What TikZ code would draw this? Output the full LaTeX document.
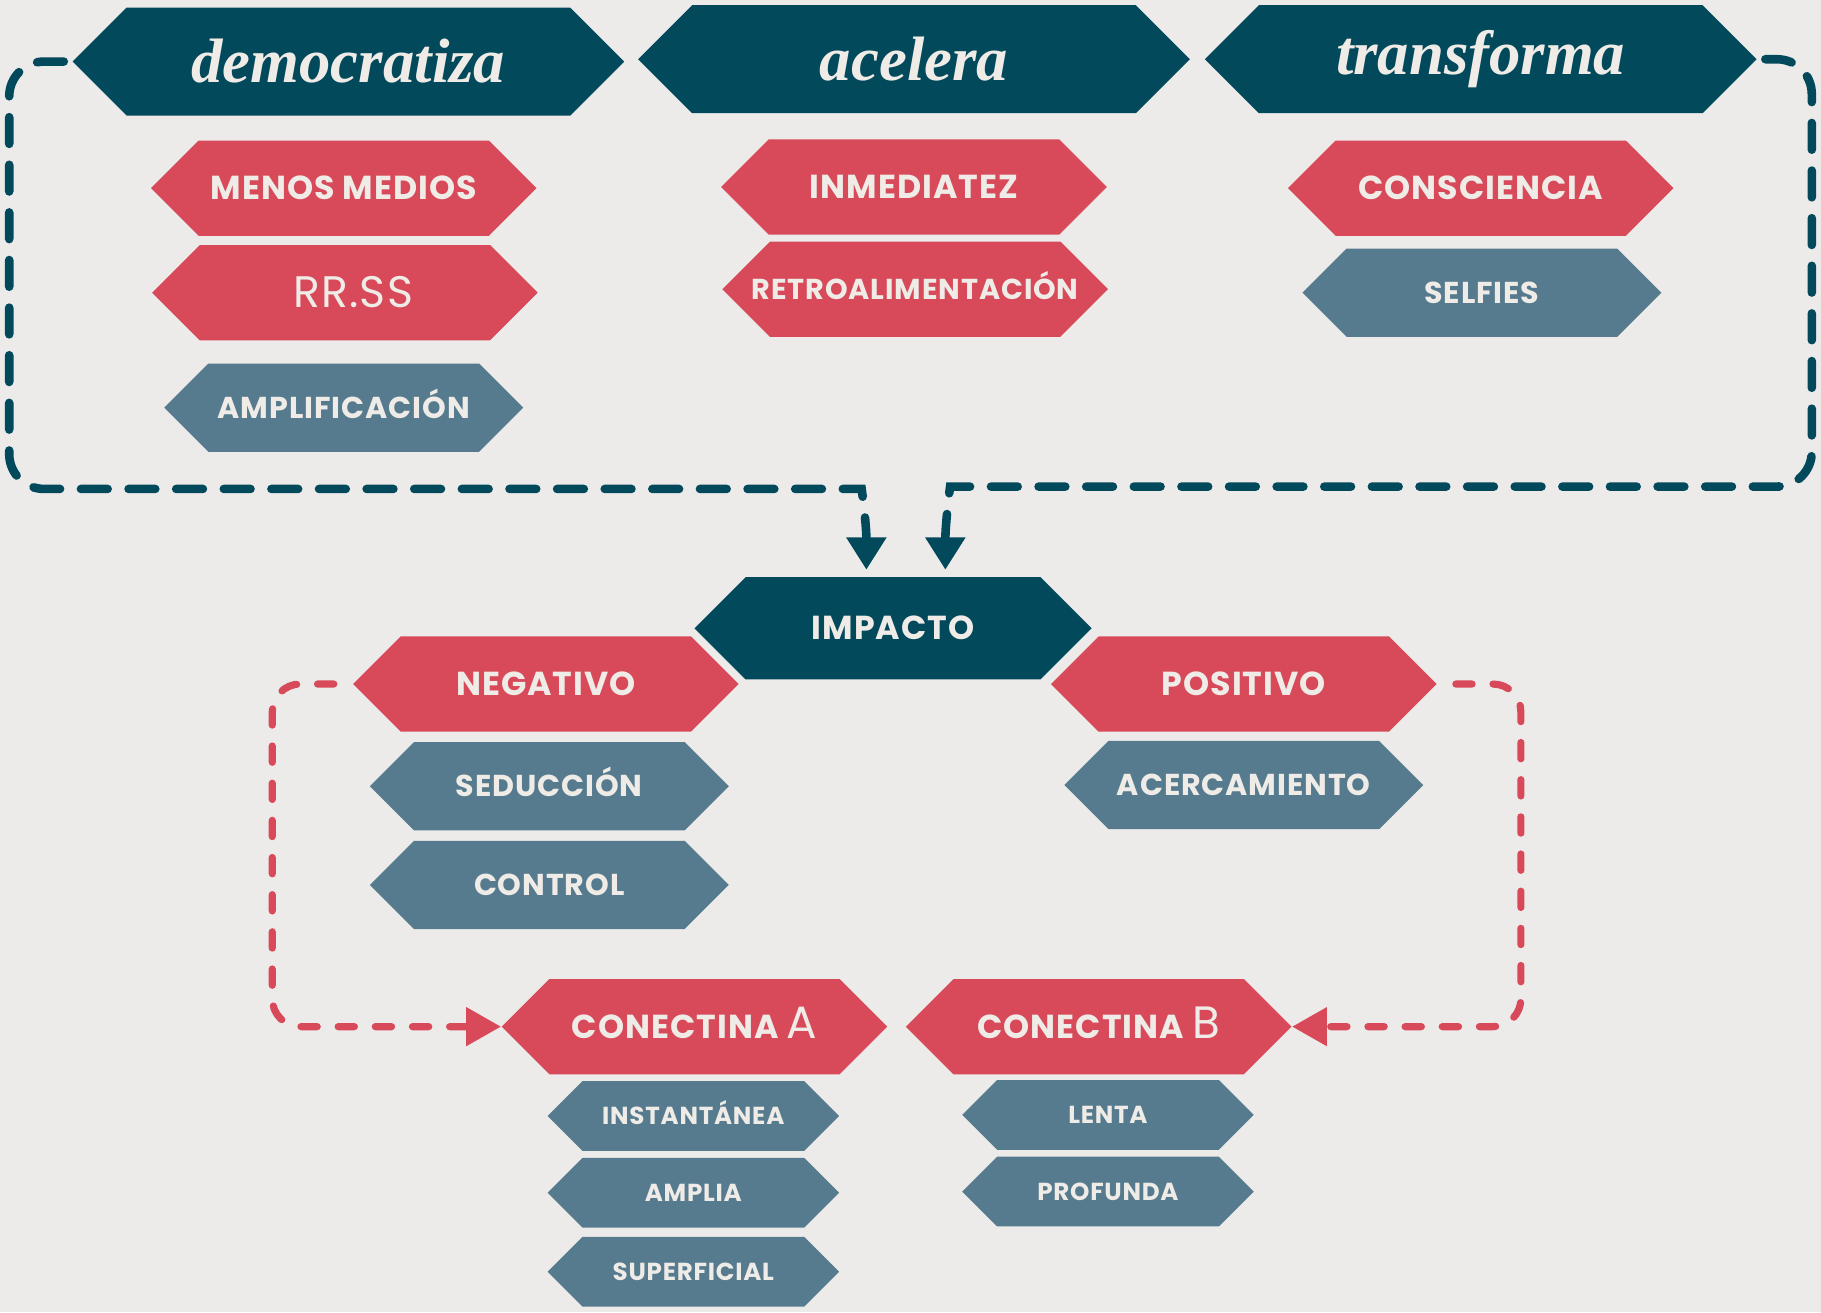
\documentclass[tikz,border=0pt]{standalone}
\usepackage{fontspec}
\usepackage{xcolor}
\usepackage{tikz}
\usetikzlibrary{shapes.symbols}
\usetikzlibrary{arrows.meta}
\usetikzlibrary{calc}
\newfontfamily\titlefont{Liberation Serif}
\newfontfamily\capsfont[LetterSpace=3]{Poppins}
\definecolor{paper}{HTML}{ECEBE9}
\definecolor{deepteal}{HTML}{03495C}
\definecolor{coral}{HTML}{D84A5A}
\definecolor{slate}{HTML}{567B8E}
\definecolor{chalk}{HTML}{EFEBE7}
\tikzset{
    hexnode/.style = {signal, signal to=west and east, signal pointer angle=90, inner sep=0pt, text=chalk, align=center},
    topnode/.style = {hexnode, fill=deepteal, minimum width=237.5pt, minimum height=46.5pt, font=\titlefont\bfseries\itshape\fontsize{27}{27}\selectfont},
    rednode/.style = {hexnode, fill=coral, minimum width=166pt, minimum height=41pt, text height=10pt, text depth=0pt, font=\capsfont\bfseries\fontsize{14.3}{14.3}\selectfont},
    bluenode/.style = {hexnode, fill=slate, minimum width=154.5pt, minimum height=38pt, text height=9pt, text depth=0pt, font=\capsfont\bfseries\fontsize{13}{13}\selectfont},
    smallnode/.style = {hexnode, fill=slate, minimum width=125.5pt, minimum height=30pt, text height=7.5pt, text depth=0pt, font=\capsfont\bfseries\fontsize{10.6}{10.6}\selectfont},
}

\begin{document}
\begin{tikzpicture}[
	x=0.5pt,
	y=-0.5pt,
	loopd/.style = {deepteal, line width=3.7pt, line cap=round, rounded corners=15pt, dash pattern=on 11.5pt off 9pt, -{Triangle[width=16.5pt,length=14pt]}},
	loopr/.style = {coral, line width=3.1pt, line cap=round, rounded corners=12pt, dash pattern=on 7pt off 9pt, -{Triangle[width=16pt,length=15pt]}},
]
\fill[paper] (0,0) rectangle (1568,1130);
\useasboundingbox (0,0) rectangle (1568,1130);
% top row
\node[topnode] at (300,53) (dem) {democratiza};
\node[topnode] at (787,51) (ace) {acelera};
\node[topnode] at (1275,51) (tra) {transforma};
\node[rednode] at (296,162) (men) {MENOS MEDIOS};
\node[rednode, font=\capsfont\fontsize{19}{19}\selectfont, text height=13pt] at (297,252) (rrss) {\hspace*{7pt}RR.SS};
\node[bluenode] at (296,351) (amp) {AMPLIFICACIÓN};
\node[rednode] at (787,161) (inm) {INMEDIATEZ};
\node[rednode, inner xsep=-12pt, font=\capsfont\bfseries\fontsize{12.4}{12.4}\selectfont, text height=8.7pt] at (788,249) (ret) {RETROALIMENTACIÓN};
\node[rednode] at (1275,162) (con) {CONSCIENCIA};
\node[bluenode] at (1276,252) (sel) {SELFIES};
% impacto
\node[rednode, fill=deepteal, minimum width=171pt, minimum height=44pt] at (769,541) (imp) {IMPACTO};
\node[rednode] at (470,589) (neg) {NEGATIVO};
\node[rednode] at (1071,589) (pos) {POSITIVO};
\node[bluenode] at (473,677) (sed) {SEDUCCIÓN};
\node[bluenode] at (473,762) (ctl) {CONTROL};
\node[bluenode] at (1071,676) (acr) {ACERCAMIENTO};
\node[rednode] at (598,884) (ca) {CONECTINA {\mdseries\fontsize{19.5}{19.5}\selectfont A}};
\node[rednode] at (946,884) (cb) {CONECTINA {\mdseries\fontsize{19.5}{19.5}\selectfont B}};
\node[smallnode] at (597,961) (ins) {INSTANTÁNEA};
\node[smallnode] at (597,1027) (ampl) {AMPLIA};
\node[smallnode] at (597,1095) (sup) {SUPERFICIAL};
\node[smallnode] at (954,960) (len) {LENTA};
\node[smallnode] at (954,1026) (pro) {PROFUNDA};
% loops
\draw[loopd] ($(dem.west)+(-7,0)$) -- ++(-47,0) -- ++(0,368) -- ++(704,0)
    .. controls +(30,0) and +(0,-40) .. ($(imp.north)+(-23,-6)$);
\draw[loopd] ($(tra.east)+(7,0)$) -- ++(40,0) -- ++(0,368) -- ++(-712,0)
    .. controls +(-30,0) and +(0,-40) .. ($(imp.north)+(45,-6)$);
\draw[loopr] ($(neg.west)+(-16,0)$) -- ++(-53,0) |- (ca.west);
\draw[loopr] ($(pos.east)+(16,0)$) -- ++(56,0) |- (cb.east);
\end{tikzpicture}
\end{document}
